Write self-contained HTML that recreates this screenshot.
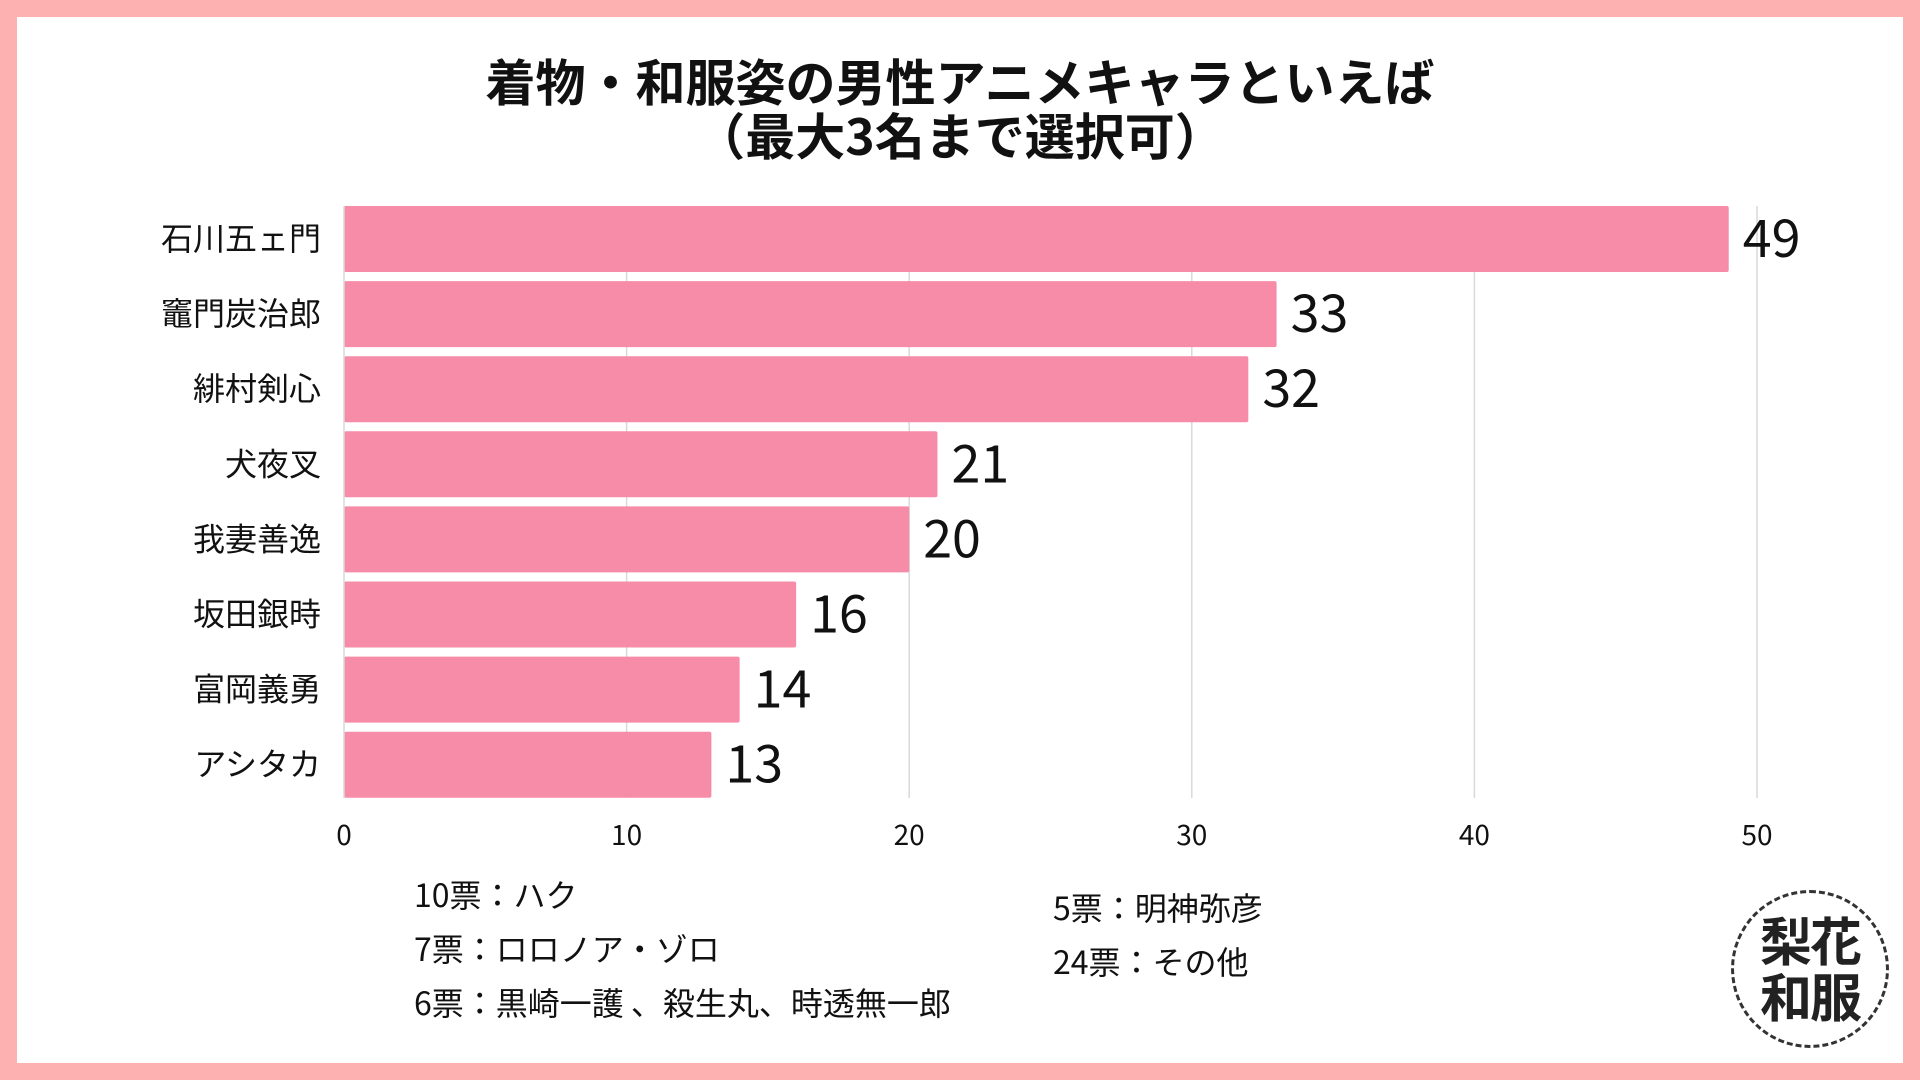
<!DOCTYPE html>
<html><head><meta charset="utf-8">
<style>
body{margin:0;width:1920px;height:1080px;overflow:hidden;background:#fff;font-family:"Noto Sans CJK JP","Liberation Sans",sans-serif;}
#frame{position:absolute;left:0;top:0;width:1920px;height:1080px;box-sizing:border-box;border:17px solid #FDB1B1;}
.t{position:absolute;white-space:nowrap;color:#111;}
svg text{font-family:"Noto Sans CJK JP","Liberation Sans",sans-serif;}
</style></head><body>
<div id="frame"></div>
<div class="t" style="left:0;width:1920px;top:53px;text-align:center;font-size:50px;font-weight:bold;line-height:54px;">着物・和服姿の男性アニメキャラといえば<br>（最大3名まで選択可）</div>
<svg id="chart" width="1920" height="1080" style="position:absolute;left:0;top:0"></svg>
<div class="t" style="left:414px;top:874px;font-size:32px;line-height:40px;">10票：ハク</div>
<div class="t" style="left:414px;top:928px;font-size:32px;line-height:40px;">7票：ロロノア・ゾロ</div>
<div class="t" style="left:414px;top:982px;font-size:32px;line-height:40px;">6票：黒崎一護 、殺生丸、時透無一郎</div>
<div class="t" style="left:1053px;top:887px;font-size:32px;line-height:40px;">5票：明神弥彦</div>
<div class="t" style="left:1053px;top:941px;font-size:32px;line-height:40px;">24票：その他</div>
<div style="position:absolute;left:1731px;top:890px;width:158px;height:158px;border:3px dashed #333;border-radius:50%;box-sizing:border-box;text-align:center;font-size:52px;line-height:56px;color:#222;padding-top:18px;letter-spacing:-2px;font-weight:bold;">梨花<br>和服</div>
<script>
const categories=["石川五ェ門","竈門炭治郎","緋村剣心","犬夜叉","我妻善逸","坂田銀時","富岡義勇","アシタカ"];
const values=[49,33,32,21,20,16,14,13];
const ticks=[0,10,20,30,40,50];
const svg=document.getElementById('chart');
const NS='http://www.w3.org/2000/svg';
const x0=344,x1=1757,xmax=50,top0=206,pitch=75.1,bh=66,plotBottom=798;
const xs=v=>x0+(x1-x0)*v/xmax;
function mk(t,a){const e=document.createElementNS(NS,t);for(const k in a)e.setAttribute(k,a[k]);svg.appendChild(e);return e;}
ticks.forEach(t=>{
 if(t>0){const l=mk('line',{x1:xs(t),x2:xs(t),y1:top0,y2:plotBottom,stroke:'#d9d9d9','stroke-width':1.5});
 
 }
 const tx=mk('text',{x:xs(t),y:845,'text-anchor':'middle','font-size':28,fill:'#111'});
 tx.textContent=t;
 
 
});
categories.forEach((c,i)=>{
 const y=top0+i*pitch;
 const r=mk('rect',{x:x0,y:y,width:xs(values[i])-x0,height:bh,fill:'#F78CA9',rx:2});
 
 
 const lb=mk('text',{x:321,y:y+bh/2+11,'text-anchor':'end','font-size':32,fill:'#111'});
 lb.textContent=c;
 
 
 const vl=mk('text',{x:xs(values[i])+14,y:y+bh/2+18,'font-size':52,fill:'#111'});
 vl.textContent=values[i];
 
 
});
const ax=mk('line',{x1:x0,x2:x0,y1:top0,y2:plotBottom,stroke:'#d9d9d9','stroke-width':1.5});


</script>
</body></html>
